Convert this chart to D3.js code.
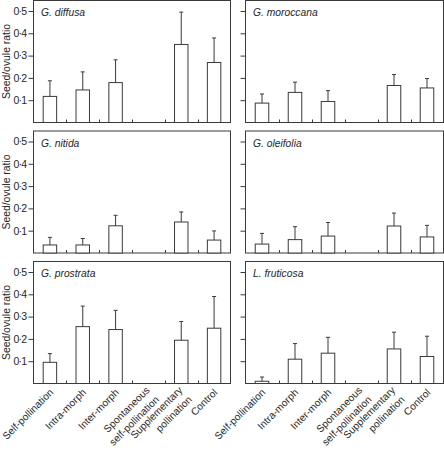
<!DOCTYPE html>
<html><head><meta charset="utf-8">
<script src="https://cdn.jsdelivr.net/npm/d3@7"></script>
<style>
html,body{margin:0;padding:0;background:#fff;}
svg{display:block;font-family:"Liberation Sans",Arial,sans-serif;}
</style></head>
<body><svg id="c" width="444" height="457"></svg>
<script>
const categories = ["Self-pollination","Intra-morph","Inter-morph","Spontaneous self-pollination","Supplementary pollination","Control"];
const categoryLines = [["Self-pollination"],["Intra-morph"],["Inter-morph"],["Spontaneous","self-pollination"],["Supplementary","pollination"],["Control"]];
const species = ["G. diffusa","G. moroccana","G. nitida","G. oleifolia","G. prostrata","L. fruticosa"];
const yTicks = [0.1,0.2,0.3,0.4,0.5];
const yTickLabels = ["0·1","0·2","0·3","0·4","0·5"];
const meanDiffusa    = [0.117,0.146,0.179,null,0.350,0.269];
const upperDiffusa   = [0.187,0.227,0.281,null,0.495,0.379];
const meanMoroccana  = [0.087,0.135,0.094,null,0.166,0.155];
const upperMoroccana = [0.128,0.181,0.143,null,0.215,0.197];
const meanNitida     = [0.036,0.036,0.122,null,0.139,0.058];
const upperNitida    = [0.070,0.065,0.169,null,0.184,0.099];
const meanOleifolia  = [0.040,0.060,0.076,null,0.121,0.072];
const upperOleifolia = [0.088,0.118,0.137,null,0.179,0.124];
const meanProstrata  = [0.095,0.255,0.242,null,0.194,0.248];
const upperProstrata = [0.134,0.347,0.328,null,0.278,0.390];
const meanFruticosa  = [0.010,0.109,0.136,null,0.155,0.121];
const upperFruticosa = [0.029,0.179,0.207,null,0.230,0.212];

const means = [meanDiffusa,meanMoroccana,meanNitida,meanOleifolia,meanProstrata,meanFruticosa];
const uppers = [upperDiffusa,upperMoroccana,upperNitida,upperOleifolia,upperProstrata,upperFruticosa];

const svg = d3.select("#c");
const ink = "#3a3a3a";
const textInk = "#262626";
const colX = [[33.5,230.5],[245.5,443.5]];
const rowBase = [122.5,253,383.5];
const panelH = 122;
const pxPerUnit = 223;

species.forEach((sp,i)=>{
  const col = i%2, row = Math.floor(i/2);
  const [x0,x1] = colX[col];
  const yb = rowBase[row];
  const x = d3.scaleBand().domain(categories).range([x0,x1]).paddingInner(0.59).paddingOuter(0.295);
  const y = d3.scaleLinear().domain([0,panelH/pxPerUnit]).range([yb,yb-panelH]);
  const g = svg.append("g");
  // frame
  g.append("rect").attr("x",x0).attr("y",yb-panelH).attr("width",x1-x0).attr("height",panelH)
    .attr("fill","none").attr("stroke",ink).attr("stroke-width",1);
  // y axis
  const yAxis = d3.axisLeft(y).tickValues(yTicks).tickSize(5).tickPadding(2)
    .tickFormat(col===0 ? (d,k)=>yTickLabels[k] : ()=>"");
  const ya = g.append("g").attr("transform",`translate(${x0},0)`).call(yAxis);
  ya.select(".domain").remove();
  ya.selectAll("line").attr("stroke",ink);
  ya.selectAll("text").attr("font-size",10.5).attr("letter-spacing","-0.7px").attr("fill",textInk)
    .attr("font-family","'Liberation Sans',Arial,sans-serif");
  // x inner ticks
  const step = x.step();
  d3.range(1,categories.length).forEach(k=>{
    const tx = Math.round(x0 + k*step)+0.5;
    g.append("line").attr("x1",tx).attr("x2",tx).attr("y1",yb).attr("y2",yb-3).attr("stroke",ink);
  });
  // bars
  const m = means[i], u = uppers[i];
  categories.forEach((c,k)=>{
    if(m[k]==null) return;
    const bx = x(c), bw = x.bandwidth(), cx = bx+bw/2;
    g.append("rect").attr("x",bx).attr("y",y(m[k])).attr("width",bw).attr("height",yb-y(m[k]))
      .attr("fill","#fff").attr("stroke",ink).attr("stroke-width",1);
    g.append("line").attr("x1",cx).attr("x2",cx).attr("y1",y(m[k])).attr("y2",y(u[k])).attr("stroke",ink);
    g.append("line").attr("x1",cx-2).attr("x2",cx+2).attr("y1",y(u[k])).attr("y2",y(u[k])).attr("stroke",ink);
  });
  // title
  g.append("text").attr("x",x0+7.5).attr("y",yb-panelH+15.5).attr("font-size",10.3)
    .attr("font-style","italic").attr("fill",textInk).text(sp);
  // y label
  if(col===0){
    g.append("text").attr("transform",`translate(10,${yb-panelH/2}) rotate(-90)`)
      .attr("text-anchor","middle").attr("font-size",10.4).attr("fill",textInk).text("Seed/ovule ratio");
  }
  // x labels
  if(row===2){
    categories.forEach((c,k)=>{
      const cx = x(c)+x.bandwidth()/2;
      const lines = categoryLines[k];
      const t = g.append("text").attr("transform",`translate(${cx+1.5},${yb+7}) rotate(-45)`)
        .attr("text-anchor","end").attr("font-size",10.2).attr("fill",textInk);
      lines.forEach((ln,j)=>{
        t.append("tspan").attr("x",0).attr("dy", j===0 ? (lines.length===1?"0.35em":"0.05em") : "1.3em").text(ln);
      });
    });
  }
});
</script></body></html>
